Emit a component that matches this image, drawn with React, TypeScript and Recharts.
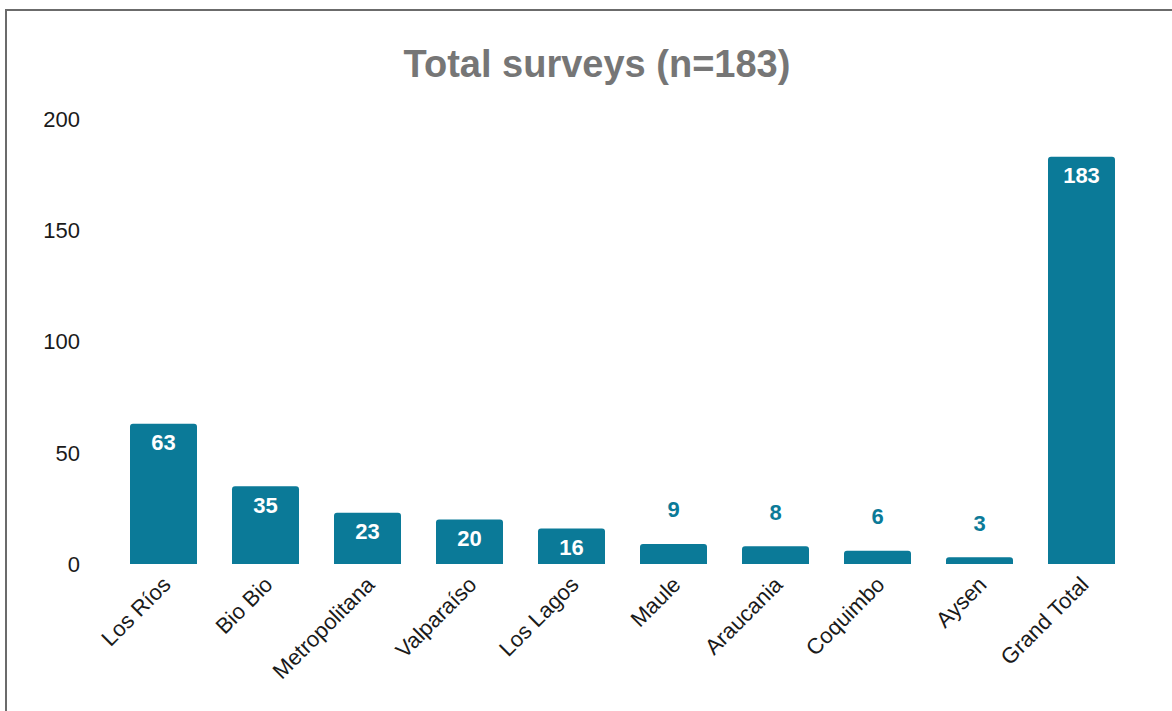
import { BarChart, Bar, XAxis, YAxis, LabelList } from 'recharts';

const categories = ['Los Ríos', 'Bio Bio', 'Metropolitana', 'Valparaíso', 'Los Lagos', 'Maule', 'Araucania', 'Coquimbo', 'Aysen', 'Grand Total'];
const surveys = [63, 35, 23, 20, 16, 9, 8, 6, 3, 183];
const yTicks = [0, 50, 100, 150, 200];

const data = categories.map((name, i) => ({ name, surveys: surveys[i] }));

const FONT = "'Liberation Sans', Arial, sans-serif";
const TEAL = '#0b7a98';

function XTick(props: any) {
    const { x, y, payload } = props;
    return (
        <g transform={`translate(${x + 9},${y + 22})`}>
            <text transform="rotate(-45)" textAnchor="end" fontSize={22} fill="#1a1a1a" fontFamily={FONT}>
                {payload.value}
            </text>
        </g>
    );
}

function ValueLabel(props: any) {
    const { x, y, width, value } = props;
    const cx = x + width / 2;
    const inside = value >= 10;
    return (
        <text
            x={cx}
            y={inside ? y + 19 : y - 34}
            textAnchor="middle"
            dominantBaseline="central"
            fontSize={22}
            fontWeight="bold"
            fontFamily={FONT}
            fill={inside ? '#ffffff' : TEAL}
        >
            {value}
        </text>
    );
}

export default function App() {
    return (
        <div style={{ position: 'absolute', left: 0, top: 0, width: 1172, height: 711, overflow: 'hidden', background: '#fff' }}>
            <div style={{ position: 'absolute', left: 5, top: 9, width: 1200, height: 760, border: '2px solid #6b6b6b' }} />
            <div
                style={{
                    position: 'absolute', left: 297, top: 45, width: 600, textAlign: 'center',
                    fontFamily: FONT, fontWeight: 'bold', fontSize: 38, lineHeight: '38px', color: '#767676',
                }}
            >
                Total surveys (n=183)
            </div>
            <div style={{ position: 'absolute', left: 0, top: 0 }}>
                <BarChart width={1172} height={711} data={data} margin={{ top: 119, right: 40, bottom: 117, left: 0 }}>
                    <XAxis dataKey="name" height={30} interval={0} tickLine={false} axisLine={false} tickSize={0} tickMargin={0} tick={<XTick />} />
                    <YAxis
                        width={112}
                        domain={[0, 200]}
                        ticks={yTicks}
                        tickLine={false}
                        axisLine={false}
                        tickSize={0}
                        tickMargin={32}
                        tick={{ fontSize: 22, fill: '#1a1a1a', fontFamily: FONT }}
                    />
                    <Bar dataKey="surveys" fill={TEAL} barSize={67} radius={[3, 3, 0, 0]} isAnimationActive={false}>
                        <LabelList dataKey="surveys" content={<ValueLabel />} />
                    </Bar>
                </BarChart>
            </div>
        </div>
    );
}
